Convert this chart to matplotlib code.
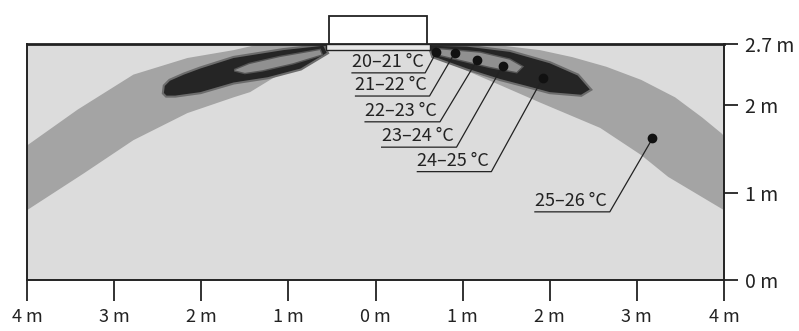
import matplotlib.pyplot as plt
from matplotlib.patches import Polygon, Rectangle

plt.rcParams['font.family'] = ['Noto Sans CJK JP', 'DejaVu Sans']

# room cross-section, metres
x_ticks = [-4, -3, -2, -1, 0, 1, 2, 3, 4]
x_tick_labels = ['4 m', '3 m', '2 m', '1 m', '0 m', '1 m', '2 m', '3 m', '4 m']
y_ticks = [0, 1, 2, 2.7]
y_tick_labels = ['0 m', '1 m', '2 m', '2.7 m']

# temperature zones (outlines, metres)
band_25_left = [(-4.0, 1.54), (-3.42, 1.95), (-2.78, 2.35), (-2.16, 2.54), (-1.63, 2.63),
                (-1.32, 2.70), (-0.57, 2.70), (-0.56, 2.63), (-0.86, 2.49), (-1.21, 2.29),
                (-1.44, 2.15), (-1.63, 2.09), (-2.16, 1.91), (-2.78, 1.60), (-3.35, 1.22),
                (-4.0, 0.80)]
band_25_right = [(0.60, 2.70), (1.30, 2.70), (1.89, 2.63), (2.26, 2.55), (2.65, 2.44),
                 (3.05, 2.29), (3.44, 2.09), (3.75, 1.86), (3.97, 1.68), (4.0, 1.65),
                 (4.0, 0.80), (3.36, 1.18), (3.05, 1.43), (2.58, 1.74), (1.89, 2.03),
                 (1.43, 2.23), (1.08, 2.38), (0.68, 2.57), (0.60, 2.63)]
core_left = [(-2.43, 2.14), (-2.42, 2.22), (-2.36, 2.28), (-2.20, 2.35), (-2.01, 2.42),
             (-1.63, 2.54), (-1.06, 2.63), (-0.60, 2.68), (-0.56, 2.60), (-0.86, 2.42),
             (-1.24, 2.32), (-1.63, 2.26), (-2.01, 2.15), (-2.30, 2.11), (-2.40, 2.11)]
inner_left = [(-1.62, 2.40), (-1.45, 2.47), (-1.10, 2.55), (-0.64, 2.63), (-0.62, 2.58),
              (-0.95, 2.48), (-1.30, 2.40), (-1.50, 2.37)]
core_right = [(0.62, 2.68), (1.05, 2.67), (1.54, 2.61), (2.00, 2.48), (2.32, 2.34),
              (2.46, 2.18), (2.36, 2.12), (2.00, 2.15), (1.74, 2.22), (1.43, 2.30),
              (1.05, 2.42), (0.66, 2.56)]
inner_right = [(0.72, 2.64), (1.20, 2.60), (1.54, 2.52), (1.68, 2.44), (1.62, 2.38),
               (1.31, 2.44), (0.97, 2.52), (0.72, 2.58)]

# labels: text, underline start/end x, underline y, point x, point y
labels = ['20\u201221 \u00b0C', '21\u201222 \u00b0C', '22\u201223 \u00b0C',
          '23\u201224 \u00b0C', '24\u201225 \u00b0C', '25\u201226 \u00b0C']
line_x0 = [-0.27, -0.23, -0.12, 0.07, 0.48, 1.83]
line_x1 = [0.57, 0.62, 0.74, 0.93, 1.33, 2.69]
line_y = [2.37, 2.105, 1.81, 1.52, 1.24, 0.78]
dot_x = [0.70, 0.91, 1.17, 1.46, 1.92, 3.18]
dot_y = [2.61, 2.60, 2.52, 2.45, 2.31, 1.62]

fig = plt.figure(figsize=(7.99, 3.31), dpi=100)
ax = fig.add_axes([0.034, 0.154, 0.872, 0.713])
ax.set_xlim(-4, 4)
ax.set_ylim(0, 2.7)
ax.set_facecolor('#dcdcdc')

for poly in (band_25_left, band_25_right):
    ax.add_patch(Polygon(poly, closed=True, fc='#a4a4a4', ec='none', zorder=1))
for poly in (core_left, core_right):
    ax.add_patch(Polygon(poly, closed=True, fc='#6c6c6c', ec='#6c6c6c', lw=3, zorder=2))
    ax.add_patch(Polygon(poly, closed=True, fc='#252525', ec='none', zorder=3))
for poly in (inner_left, inner_right):
    ax.add_patch(Polygon(poly, closed=True, fc='#555', ec='#555', lw=2, zorder=4))
    ax.add_patch(Polygon(poly, closed=True, fc='#909090', ec='none', zorder=5))

# ceiling diffuser
ax.add_patch(Rectangle((-0.53, 2.70), 1.12, 0.32, fc='white', ec='#222', lw=1.3,
                       clip_on=False, zorder=6))
ax.add_patch(Rectangle((-0.57, 2.63), 1.20, 0.07, fc='#e8e8e8', ec='#222', lw=1.0,
                       zorder=6))

for i in range(len(labels)):
    ax.plot([line_x0[i], line_x1[i], dot_x[i]], [line_y[i], line_y[i], dot_y[i]],
            color='#222', lw=0.9, zorder=7)
    ax.plot(dot_x[i], dot_y[i], 'o', color='#111', ms=6, zorder=8)
    ax.text(line_x0[i], line_y[i] + 0.02, labels[i], fontsize=13, color='#222',
            ha='left', va='bottom', zorder=8)

for s in ax.spines.values():
    s.set_color('#222')
    s.set_linewidth(1.4)
ax.spines['top'].set_linewidth(2)

ax.set_xticks(x_ticks)
ax.set_xticklabels(x_tick_labels, fontsize=13)
ax.tick_params(axis='x', direction='out', length=15, width=1.3, pad=5, colors='#222')
ax.yaxis.tick_right()
ax.set_yticks(y_ticks)
ax.set_yticklabels(y_tick_labels, fontsize=14)
ax.tick_params(axis='y', direction='out', length=10, width=1.3, pad=5, colors='#222')

fig.savefig('out.png', dpi=100)
